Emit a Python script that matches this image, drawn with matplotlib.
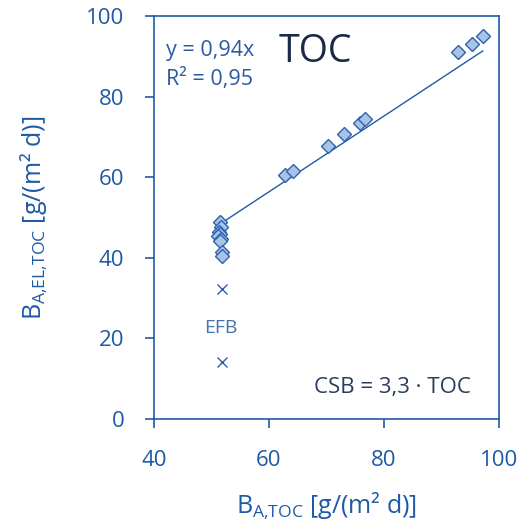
import matplotlib
matplotlib.use("Agg")
import matplotlib.pyplot as plt
import numpy as np

plt.rcParams['font.family'] = ['Open Sans', 'DejaVu Sans']
plt.rcParams['mathtext.fontset'] = 'custom'
plt.rcParams['mathtext.rm'] = 'Open Sans'
plt.rcParams['mathtext.it'] = 'Open Sans'

# measured points (diamonds)
x_pts = [51.4, 51.6, 51.3, 51.5, 51.2, 51.6, 51.5, 51.8, 51.9,
         62.8, 64.2, 70.3, 73.0, 75.8, 76.7, 92.9, 95.3, 97.2]
y_pts = [48.9, 47.6, 46.4, 45.9, 45.5, 44.7, 44.2, 41.4, 40.4,
         60.5, 61.5, 67.7, 70.7, 73.5, 74.4, 91.1, 93.1, 95.0]
# outliers (EFB)
x_efb = [51.8, 51.8]
y_efb = [32.3, 14.1]
slope = 0.94
fit_range = [51.4, 97.2]

blue = '#1f5aa6'
text_blue = '#2b5aa0'
dark = '#1b2b47'

fig = plt.figure(figsize=(5.24, 5.23), dpi=100)
ax = fig.add_axes([0.294, 0.199, 0.658, 0.770])

xf = np.array(fit_range)
ax.plot(xf, slope * xf, color=blue, lw=1.0)
ax.plot(x_pts, y_pts, 'D', ms=7, mfc='#a8c3e8', mec='#2e62ad', mew=1.0, ls='none')
ax.plot(x_efb, y_efb, 'x', ms=7, color='#2e5fa8', mew=1.0, ls='none')

ax.set_xlim(40, 100)
ax.set_ylim(0, 100)
ax.set_xticks([40, 60, 80, 100])
ax.set_yticks([0, 20, 40, 60, 80, 100])
for s in ax.spines.values():
    s.set_color(blue)
    s.set_linewidth(1.2)
ax.tick_params(direction='out', length=6.5, width=1.2, color=blue,
               labelcolor=blue, labelsize=16)
ax.tick_params(axis='x', pad=16)
ax.tick_params(axis='y', pad=15)

ax.text(0.035, 0.915, 'y = 0,94x', transform=ax.transAxes, fontsize=15.5,
        color=text_blue, va='center')
ax.text(0.035, 0.845, 'R² = 0,95', transform=ax.transAxes, fontsize=15.5,
        color=text_blue, va='center')
ax.text(0.36, 0.91, 'TOC', transform=ax.transAxes, fontsize=27,
        color=dark, va='center')
ax.text(0.92, 0.077, 'CSB = 3,3 · TOC', transform=ax.transAxes, fontsize=16,
        color='#2a3d5e', ha='right', va='center')
ax.text(51.6, 22.5, 'EFB', fontsize=14, color='#4a72b0', ha='center', va='center')

ax.set_xlabel(r'B$_{\mathregular{A{,}TOC}}$ [g/(m² d)]', fontsize=18, color=blue, labelpad=14)
ax.set_ylabel(r'B$_{\mathregular{A{,}EL{,}TOC}}$ [g/(m² d)]', fontsize=18, color=blue, labelpad=26)

fig.savefig('out.png', dpi=100)
